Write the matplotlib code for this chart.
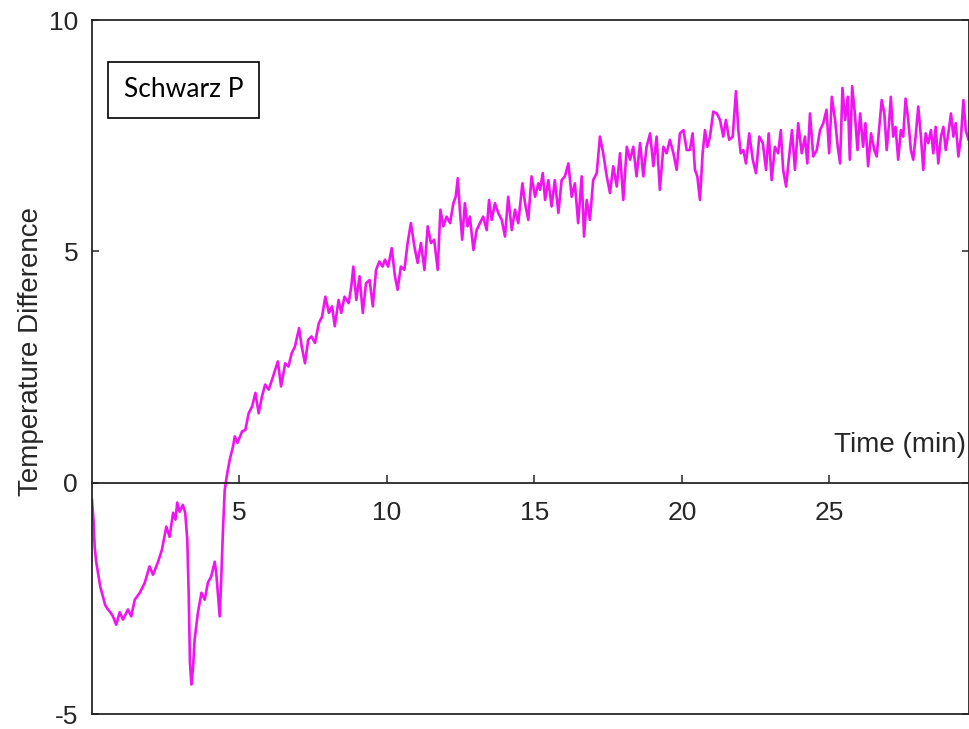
import matplotlib.pyplot as plt

# temperature difference trace
time_min = [0, 0.05, 0.09, 0.14, 0.2, 0.28, 0.37, 0.45, 0.54, 0.62, 0.71, 0.82, 0.94, 1.05, 1.22, 1.33, 1.45,
            1.62, 1.79, 1.95, 2.07, 2.24, 2.37, 2.52, 2.63, 2.75, 2.83, 2.89, 2.97, 3.08, 3.16,
            3.23, 3.28, 3.32, 3.37, 3.42, 3.48, 3.59, 3.71, 3.82, 3.93, 4.04, 4.16, 4.21, 4.33,
            4.38, 4.44, 4.5, 4.59, 4.67, 4.78, 4.84, 4.93,
            5.09, 5.2, 5.31, 5.43, 5.54, 5.65, 5.76, 5.87, 5.99, 6.1, 6.21, 6.3, 6.41, 6.55,
            6.66, 6.77, 6.88, 7.02, 7.11, 7.22, 7.33, 7.44, 7.56, 7.69, 7.8, 7.91, 8.03, 8.14,
            8.23, 8.36, 8.45, 8.56, 8.7, 8.79, 8.86, 8.96, 9.07, 9.18, 9.29, 9.41, 9.52, 9.63,
            9.74, 9.85,
            9.93, 10.04, 10.16, 10.27, 10.36, 10.47, 10.59, 10.7, 10.81, 10.93, 11.04, 11.15,
            11.27, 11.38, 11.49, 11.6, 11.72, 11.81, 11.91, 12.02, 12.14, 12.25, 12.33, 12.4,
            12.47, 12.55, 12.64, 12.73, 12.81, 12.93, 13.04, 13.15, 13.26, 13.38, 13.46, 13.55,
            13.66, 13.77, 13.89, 14.0, 14.11, 14.23, 14.34, 14.45, 14.59, 14.68, 14.79, 14.9,
            15.02, 15.13,
            15.19, 15.28, 15.36, 15.47, 15.58, 15.69, 15.81, 15.92, 16.03, 16.15, 16.26, 16.37,
            16.48, 16.6, 16.68, 16.77, 16.88, 16.99, 17.11, 17.22, 17.33, 17.45, 17.56, 17.67,
            17.79, 17.9, 18.01, 18.13, 18.24, 18.35, 18.46, 18.58, 18.69, 18.8, 18.92, 19.03,
            19.14, 19.25, 19.37, 19.48, 19.59, 19.71, 19.82, 19.93, 20.05, 20.16,
            20.27, 20.36, 20.44, 20.52, 20.61, 20.7, 20.78, 20.86, 20.95, 21.06, 21.18, 21.29,
            21.4, 21.49, 21.6, 21.72, 21.83, 21.91, 21.99, 22.08, 22.17, 22.28, 22.4, 22.51,
            22.62, 22.74, 22.85, 22.94, 23.04, 23.15, 23.26, 23.35, 23.43, 23.53, 23.62, 23.73,
            23.83, 23.94, 24.06, 24.17, 24.25, 24.34, 24.45, 24.57, 24.68, 24.79, 24.9, 24.99,
            25.08, 25.19,
            25.28, 25.36, 25.44, 25.53, 25.62, 25.69, 25.77, 25.86, 25.95, 26.04, 26.14, 26.22,
            26.31, 26.41, 26.52, 26.6, 26.68, 26.77, 26.86, 26.94, 27.02, 27.08, 27.16, 27.24,
            27.33, 27.42, 27.5, 27.58, 27.67, 27.76, 27.84, 27.92, 28.01, 28.1, 28.18, 28.26,
            28.35, 28.44, 28.52, 28.6, 28.69, 28.78, 28.86, 28.94, 29.03, 29.12, 29.2, 29.28,
            29.37, 29.46, 29.54, 29.62, 29.71, 29.8]

temp_diff = [-0.37, -0.8, -1.38, -1.7, -1.94, -2.25, -2.46, -2.65, -2.74, -2.8, -2.89, -3.07, -2.8, -2.96, -2.74, -2.89, -2.53,
             -2.38, -2.16, -1.81, -1.99, -1.71, -1.45, -0.95, -1.17, -0.65, -0.8, -0.43, -0.63, -0.48, -0.65,
             -1.23, -2.46, -3.89, -4.36, -4.04, -3.39, -2.81, -2.38, -2.53, -2.16, -2.03, -1.71, -1.94, -2.89,
             -2.1, -1.02, -0.15, 0.22, 0.5, 0.78, 1.0, 0.86,
             1.11, 1.14, 1.5, 1.65, 1.94, 1.5, 1.86, 2.12, 2.01, 2.22, 2.44, 2.62, 2.08, 2.58,
             2.51, 2.8, 2.94, 3.34, 2.94, 2.58, 3.09, 3.16, 3.02, 3.45, 3.59, 4.02, 3.67, 3.81,
             3.38, 3.95, 3.67, 4.02, 3.88, 4.24, 4.67, 3.95, 4.46, 3.67, 4.31, 4.38, 3.81, 4.6,
             4.78, 4.67,
             4.82, 4.67, 5.07, 4.46, 4.17, 4.67, 4.6, 5.18, 5.61, 5.1, 4.75, 5.18,
             4.6, 5.54, 5.18, 5.25, 4.6, 5.9, 5.54, 5.75, 5.61, 6.04, 6.18, 6.58,
             5.9, 5.25, 6.04, 5.54, 5.75, 5.03, 5.46, 5.61, 5.75, 5.46, 6.11, 5.68,
             6.04, 5.83, 5.68, 5.32, 6.18, 5.46, 5.9, 5.61, 6.47, 6.04, 5.68, 6.62,
             6.18, 6.47,
             6.33, 6.69, 6.11, 6.54, 5.97, 6.54, 5.83, 6.54, 6.62, 6.9, 6.18, 6.47,
             5.61, 6.62, 5.32, 6.11, 5.68, 6.54, 6.69, 7.48, 7.12, 6.62, 6.26, 6.84,
             6.4, 7.12, 6.11, 7.26, 6.98, 7.26, 6.62, 7.34, 6.62, 7.26, 7.55, 6.84,
             7.48, 6.33, 7.26, 7.12, 7.41, 7.12, 6.76, 7.55, 7.62, 7.19,
             7.19, 7.55, 6.76, 6.62, 6.11, 7.12, 7.62, 7.26, 7.48, 8.02, 7.98, 7.84,
             7.48, 7.84, 7.41, 7.48, 8.46, 7.62, 7.12, 7.19, 6.9, 7.55, 6.98, 6.69,
             7.48, 7.34, 6.76, 7.55, 6.54, 7.26, 7.12, 7.62, 6.76, 6.4, 6.98, 7.62,
             6.76, 7.77, 7.12, 7.48, 6.9, 7.98, 7.05, 7.19, 7.62, 7.77, 8.06, 7.12,
             8.34, 7.84,
             7.26, 6.9, 8.53, 7.84, 8.34, 6.98, 8.57, 7.98, 7.19, 7.98, 7.26, 7.77,
             6.84, 7.55, 7.19, 7.05, 7.62, 8.27, 7.98, 7.19, 7.77, 8.34, 7.48, 7.69,
             6.98, 7.62, 7.48, 8.3, 7.84, 7.19, 6.98, 7.48, 8.13, 7.48, 6.76, 7.55,
             7.34, 7.62, 7.12, 7.69, 6.9, 7.48, 7.69, 7.19, 7.55, 7.98, 7.48, 7.77,
             7.05, 7.48, 8.27, 7.62, 7.41, 7.5]

x_ticks = [5, 10, 15, 20, 25]
y_ticks = [-5, 0, 5, 10]
y_labels = ['-5', '0', '5', '10']

plt.rcParams['font.family'] = 'Liberation Sans'
plt.rcParams['axes.unicode_minus'] = False

edge = '#262626'
fig = plt.figure(figsize=(9.69, 7.29), dpi=100)
ax = fig.add_axes([92 / 969, 15 / 729, 877 / 969, 694 / 729])

ax.plot(time_min, temp_diff, color='#f014f0', linewidth=1.9)

ax.set_xlim(0, 29.73)
ax.set_ylim(-5, 10)

# x axis crosses at y = 0, box border kept at the bottom
ax.spines['bottom'].set_position(('data', 0))
for side in ['bottom', 'top', 'left', 'right']:
    ax.spines[side].set_color(edge)
    ax.spines[side].set_linewidth(1.3)
ax.plot([0, 1], [0, 0], transform=ax.transAxes, color=edge, linewidth=1.3, clip_on=False)

ax.set_xticks(x_ticks)
ax.set_yticks(y_ticks)
ax.set_yticklabels(y_labels)
ax.tick_params(axis='x', direction='in', length=6, width=1.1, pad=13, labelsize=19,
               colors='#262626')
ax.tick_params(axis='y', direction='in', length=5, width=1.1, pad=10, labelsize=19,
               colors='#262626', right=True)

ax.set_ylabel('Temperature Difference', fontsize=20, color='#262626')
ax.yaxis.set_label_coords(-0.055, 0.523)

ax.text(29.63, 0.82, 'Time (min)', ha='right', va='center', fontsize=20, color='#262626')

ax.text(3.1, 8.49, 'Schwarz P', fontfamily='Lato', fontsize=19, ha='center', va='center',
        bbox=dict(boxstyle='square,pad=0.6', fc='white', ec='black', lw=1.2))

fig.savefig('out.png', dpi=100)
